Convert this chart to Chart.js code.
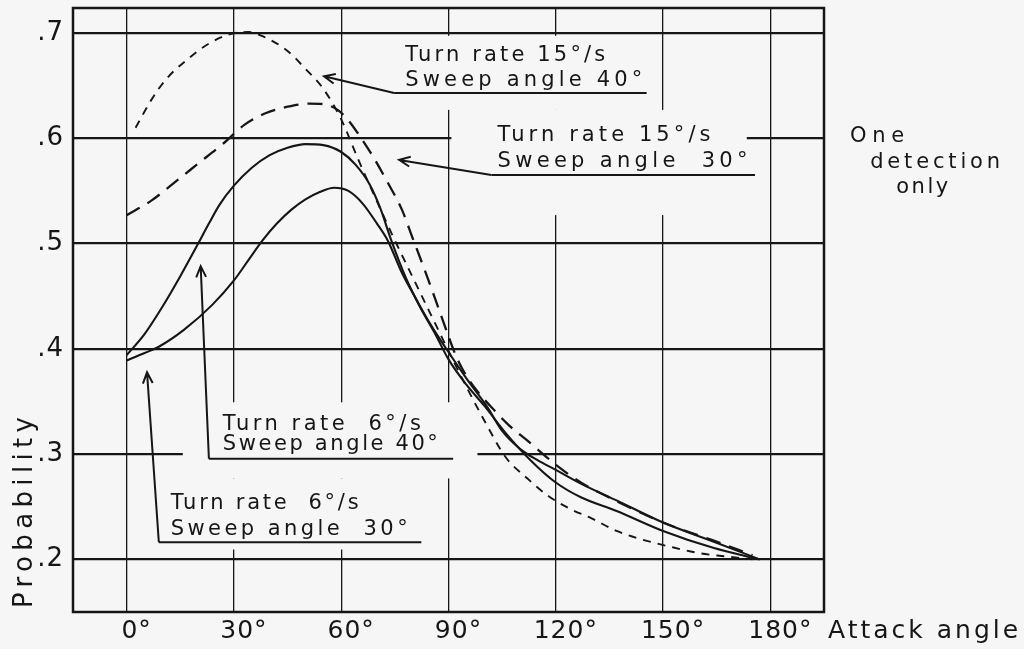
<!DOCTYPE html>
<html>
<head>
<meta charset="utf-8">
<script src="https://cdn.jsdelivr.net/npm/chart.js@4.4.1/dist/chart.umd.min.js"></script>
<style>
  html, body { margin: 0; padding: 0; background: #f6f6f6; }
</style>
</head>
<body>
<canvas id="probChart" width="1024" height="649"></canvas>
<script>
// Axis ticks
const attackTicks = [0, 30, 60, 90, 120, 150, 180];
const probTicks = [0.2, 0.3, 0.4, 0.5, 0.6, 0.7];

// Turn rate 15°/s, sweep angle 40° (short dashes)
const ang15_40 = [2.5, 7, 11, 17, 23, 29, 34, 38, 45, 50, 55, 60, 65, 70, 75, 80, 85, 90, 95, 100, 106, 112, 118, 124, 130, 137, 144, 152, 160, 167, 175];
const prob15_40 = [0.610, 0.637, 0.656, 0.675, 0.690, 0.699, 0.701, 0.697, 0.683, 0.666, 0.647, 0.618, 0.578, 0.540, 0.503, 0.468, 0.433, 0.398, 0.364, 0.332, 0.297, 0.277, 0.260, 0.248, 0.239, 0.227, 0.219, 0.212, 0.206, 0.203, 0.200];

// Turn rate 15°/s, sweep angle 30° (long dashes)
const ang15_30 = [0, 7, 13, 20, 27, 33, 39, 45, 51, 55, 59, 62, 65, 69, 73, 77, 80, 83, 86, 90, 92, 94, 98, 103, 107, 112, 120, 127, 136, 150, 164, 175];
const prob15_30 = [0.527, 0.541, 0.557, 0.576, 0.595, 0.613, 0.624, 0.630, 0.633, 0.6325, 0.627, 0.617, 0.603, 0.582, 0.558, 0.532, 0.505, 0.478, 0.450, 0.412, 0.394, 0.380, 0.360, 0.341, 0.327, 0.313, 0.290, 0.273, 0.257, 0.235, 0.218, 0.204];

// Turn rate 6°/s, sweep angle 40° (solid)
const ang6_40 = [0, 5, 10, 15, 20, 23, 26, 30, 35, 40, 45, 50, 55, 60, 64, 68, 71, 74, 78, 82, 86, 90, 95, 100, 106, 113, 120, 127, 137, 150, 164, 177];
const prob6_40 = [0.394, 0.414, 0.440, 0.469, 0.500, 0.519, 0.537, 0.555, 0.572, 0.584, 0.591, 0.5945, 0.5935, 0.587, 0.575, 0.556, 0.533, 0.503, 0.468, 0.440, 0.416, 0.390, 0.366, 0.346, 0.320, 0.294, 0.273, 0.259, 0.246, 0.227, 0.211, 0.200];

// Turn rate 6°/s, sweep angle 30° (solid)
const ang6_30 = [0, 5, 9, 16, 24, 30, 34, 38, 42, 46, 50, 54, 58, 62, 66, 70, 73, 77, 81, 85, 89, 95, 101, 105, 110, 115, 120, 127, 137, 150, 164, 177];
const prob6_30 = [0.389, 0.396, 0.402, 0.418, 0.442, 0.465, 0.484, 0.503, 0.519, 0.532, 0.542, 0.549, 0.553, 0.550, 0.538, 0.519, 0.503, 0.472, 0.447, 0.423, 0.402, 0.372, 0.344, 0.322, 0.305, 0.294, 0.285, 0.272, 0.256, 0.235, 0.217, 0.200];

const ink = '#161616';
const paper = '#f6f6f6';
const FONT = '"DejaVu Sans", "Liberation Sans", sans-serif';

// Patches where the gridlines are blanked out behind the labels: [x0, x1, y0, y1]
const blanks = [
  [75.4, 147.4, 0.6974, 0.627],
  [90.8, 173.4, 0.627, 0.5271],
  [15.7, 98.1, 0.3492, 0.2769],
  [7.3, 88.0, 0.2769, 0.2094]
];

// Curve labels with underline and arrow (data coordinates)
const notes = [
  { left: 77.9, lines: [['Turn rate 15°/s', 0.673, 200], ['Sweep angle 40°', 0.650, 237]],
    rule: [0.643, 74.8, 145.4], tip: [55.2, 0.659] },
  { left: 103.7, lines: [['Turn rate 15°/s', 0.5975, 213], ['Sweep angle  30°', 0.573, 250]],
    rule: [0.5652, 102, 175.7], tip: [76.2, 0.5795] },
  { left: 26.9, lines: [['Turn rate  6°/s', 0.3226, 198], ['Sweep angle 40°', 0.3036, 215]],
    rule: [0.2956, 23, 91.3], tip: [20.7, 0.4786] },
  { left: 12.3, lines: [['Turn rate  6°/s', 0.2483, 188], ['Sweep angle  30°', 0.2236, 237]],
    rule: [0.2163, 9, 82.4], tip: [5.7, 0.3777] }
];

const sideNote = [['One', 202.3, 0.5966, 54], ['detection', 207.9, 0.5718, 130], ['only', 215.2, 0.548, 52]];

function series(xs, ys) {
  return xs.map((x, i) => ({ x: x, y: ys[i] }));
}

function fitText(ctx, s, x, y, w) {
  ctx.letterSpacing = '0px';
  const nat = ctx.measureText(s).width;
  ctx.letterSpacing = Math.max(0, (w - nat) / (s.length - 1)) + 'px';
  ctx.fillText(s, x, y);
}

function arrow(ctx, x0, y0, x1, y1) {
  ctx.beginPath();
  ctx.moveTo(x0, y0);
  ctx.lineTo(x1, y1);
  const a = Math.atan2(y0 - y1, x0 - x1);
  const len = 12, spread = 0.42;
  ctx.moveTo(x1 + len * Math.cos(a + spread), y1 + len * Math.sin(a + spread));
  ctx.lineTo(x1, y1);
  ctx.lineTo(x1 + len * Math.cos(a - spread), y1 + len * Math.sin(a - spread));
  ctx.stroke();
}

const decor = {
  id: 'decor',
  beforeDraw(chart) {
    // tick labels in the original are spaced out a little
    chart.ctx.letterSpacing = '1px';
  },
  beforeDatasetsDraw(chart) {
    const { ctx, chartArea: a, scales: { x, y } } = chart;
    ctx.save();
    ctx.fillStyle = paper;
    blanks.forEach(b => {
      const x0 = x.getPixelForValue(b[0]), x1 = x.getPixelForValue(b[1]);
      const y0 = y.getPixelForValue(b[2]), y1 = y.getPixelForValue(b[3]);
      ctx.fillRect(x0, y0, x1 - x0, y1 - y0);
    });
    ctx.strokeStyle = ink;
    ctx.lineWidth = 2.5;
    ctx.strokeRect(a.left, a.top, a.right - a.left, a.bottom - a.top);
    ctx.restore();
  },
  afterDatasetsDraw(chart) {
    const { ctx, chartArea: a, scales: { x, y } } = chart;
    ctx.save();
    ctx.fillStyle = ink;
    ctx.strokeStyle = ink;
    ctx.lineWidth = 2;
    ctx.textAlign = 'left';
    ctx.textBaseline = 'alphabetic';
    ctx.font = '21px ' + FONT;

    notes.forEach(n => {
      const lx = x.getPixelForValue(n.left);
      n.lines.forEach(l => fitText(ctx, l[0], lx, y.getPixelForValue(l[1]), l[2]));
      const ry = y.getPixelForValue(n.rule[0]);
      const rx0 = x.getPixelForValue(n.rule[1]);
      ctx.beginPath();
      ctx.moveTo(rx0, ry);
      ctx.lineTo(x.getPixelForValue(n.rule[2]), ry);
      ctx.stroke();
      arrow(ctx, rx0, ry, x.getPixelForValue(n.tip[0]), y.getPixelForValue(n.tip[1]));
    });

    sideNote.forEach(s => fitText(ctx, s[0], x.getPixelForValue(s[1]), y.getPixelForValue(s[2]), s[3]));

    // axis titles
    ctx.font = '25px ' + FONT;
    ctx.letterSpacing = '3px';
    ctx.fillText('Attack angle', a.right + 4, a.bottom + 26);

    ctx.translate(32, a.bottom - 4);
    ctx.rotate(-Math.PI / 2);
    ctx.font = '26px ' + FONT;
    fitText(ctx, 'Probability', 0, 0, 191);
    ctx.restore();
  }
};

const line = (label, xs, ys, dash, width) => ({
  label: label,
  data: series(xs, ys),
  borderColor: ink,
  borderWidth: width,
  borderDash: dash,
  pointRadius: 0,
  fill: false,
  cubicInterpolationMode: 'monotone'
});

new Chart(document.getElementById('probChart').getContext('2d'), {
  type: 'line',
  data: {
    datasets: [
      line('Turn rate 15°/s, sweep angle 40°', ang15_40, prob15_40, [8, 7], 1.9),
      line('Turn rate 15°/s, sweep angle 30°', ang15_30, prob15_30, [15, 9], 2.3),
      line('Turn rate 6°/s, sweep angle 40°', ang6_40, prob6_40, [], 2.1),
      line('Turn rate 6°/s, sweep angle 30°', ang6_30, prob6_30, [], 2.1)
    ]
  },
  options: {
    responsive: false,
    animation: false,
    layout: { padding: { left: 0, top: 8, right: 200, bottom: 0 } },
    plugins: {
      legend: { display: false },
      tooltip: { enabled: false }
    },
    scales: {
      x: {
        type: 'linear',
        min: -15,
        max: 195,
        afterBuildTicks: s => { s.ticks = attackTicks.map(v => ({ value: v })); },
        afterFit: s => { s.height = 37; s.paddingLeft = 0; s.paddingRight = 0; },
        grid: { color: ink, lineWidth: 1.3, drawTicks: false },
        border: { display: false },
        ticks: {
          color: ink,
          font: { family: FONT, size: 25 },
          padding: 4,
          labelOffset: 10,
          maxRotation: 0,
          autoSkip: false,
          callback: v => v + '°'
        }
      },
      y: {
        min: 0.15,
        max: 0.7238,
        afterBuildTicks: s => { s.ticks = probTicks.map(v => ({ value: v })); },
        afterFit: s => { s.width = 73; s.paddingTop = 0; s.paddingBottom = 0; },
        grid: { color: ink, lineWidth: 2.2, drawTicks: false },
        border: { display: false },
        ticks: {
          color: ink,
          font: { family: FONT, size: 26 },
          padding: 9,
          callback: v => '.' + Math.round(v * 10)
        }
      }
    }
  },
  plugins: [decor]
});
</script>
</body>
</html>
